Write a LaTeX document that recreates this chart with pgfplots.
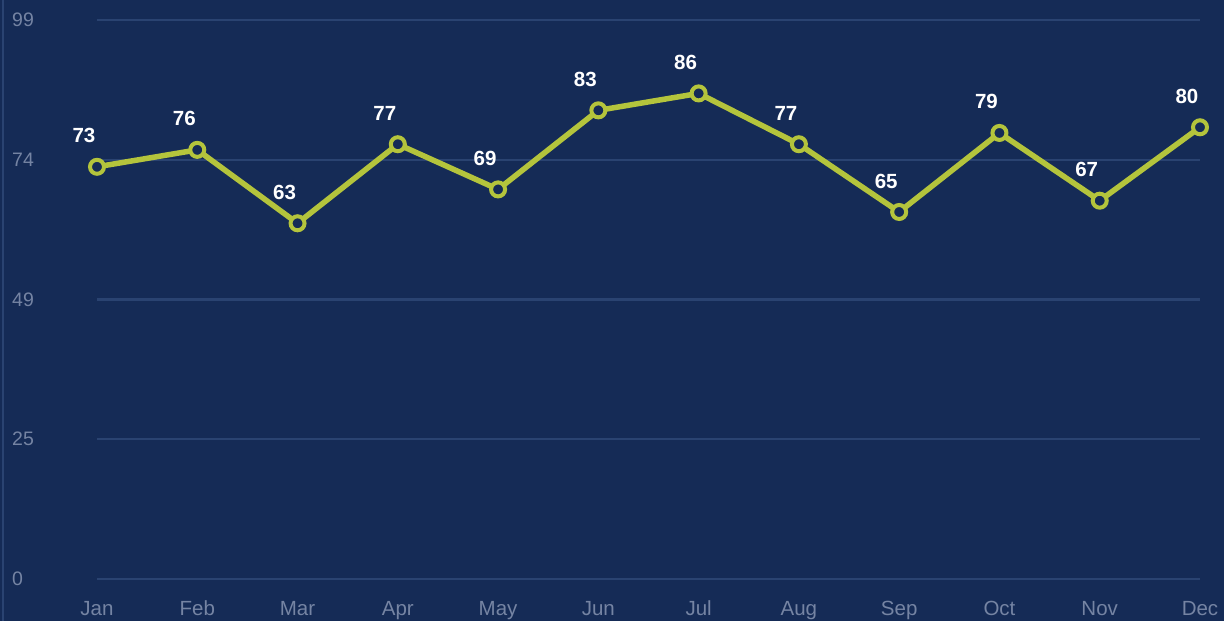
\documentclass[border=0pt]{standalone}
\usepackage{pgfplots}
\pgfplotsset{compat=1.18}
\usepackage{fontspec}
\setmainfont{Liberation Sans}
\definecolor{bg}{HTML}{152B56}
\definecolor{gridc}{HTML}{2A4371}
\definecolor{linec}{HTML}{B4C43C}
\definecolor{tickc}{HTML}{7584A3}
\begin{document}
\begin{tikzpicture}
\fill[bg] (0pt,0pt) rectangle (1224pt,621pt);
\useasboundingbox (0pt,0pt) rectangle (1224pt,621pt);
\draw[gridc, line width=2pt] (3pt,0pt) -- (3pt,621pt);
\begin{axis}[
  at={(97pt,42pt)}, anchor=south west,
  scale only axis, width=1103pt, height=559pt,
  xmin=0, xmax=11, ymin=0, ymax=99,
  clip=false,
  axis line style={draw=none},
  major tick length=0pt,
  ytick={0,24.75,49.5,74.25,99},
  yticklabels={0,25,49,74,99},
  xtick={0,...,11},
  xticklabels={Jan,Feb,Mar,Apr,May,Jun,Jul,Aug,Sep,Oct,Nov,Dec},
  ymajorgrids,
  grid style={gridc, line width=2.5pt},
  yticklabel style={anchor=west, inner sep=0pt, xshift=-85pt, font=\fontsize{19.5}{22}\selectfont, text=tickc},
  xticklabel style={anchor=base, inner sep=0pt, yshift=-37pt, font=\fontsize{20.5}{24}\selectfont, text=tickc},
  /pgf/number format/assume math mode=true,
  nodes near coords={\pgfmathprintnumber{\pgfplotspointmeta}},
  every node near coord/.append style={anchor=center, inner sep=0pt, xshift=-13pt, yshift=31pt, font=\fontsize{20.5}{24}\selectfont\bfseries, text=white},
]
\addplot[color=linec, line width=5.5pt, mark=*, mark size=7pt,
  mark options={fill=bg, draw=linec, line width=4pt}]
coordinates {(0,73)(1,76)(2,63)(3,77)(4,69)(5,83)(6,86)(7,77)(8,65)(9,79)(10,67)(11,80)};
\end{axis}
\end{tikzpicture}
\end{document}
